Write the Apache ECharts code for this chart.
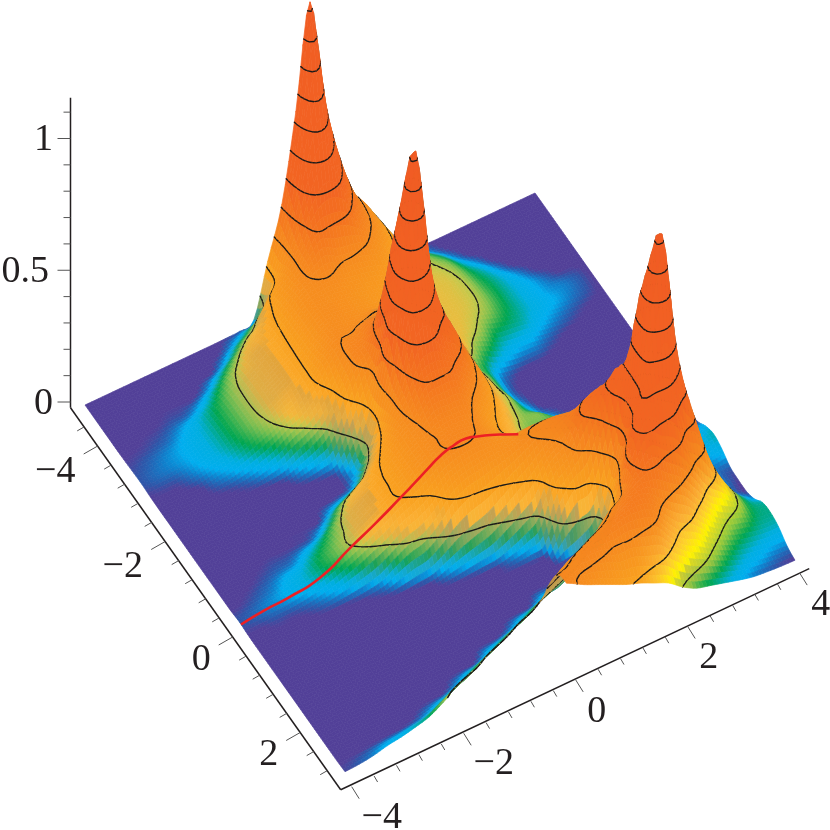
<!DOCTYPE html>
<html><head><meta charset="utf-8">
<style>html,body{margin:0;padding:0;background:#fff}#c{width:830px;height:830px}</style>
<script src="https://cdn.jsdelivr.net/npm/echarts@6/dist/echarts.min.js"></script>
</head><body><div id="c"></div>
<script>
// Surface samples: one list per u value, each running along v.
const uValues=[-4,-3.75,-3.5,-3.25,-3,-2.75,-2.5,-2.25,-2,-1.75,-1.5,-1.25,-1,-.75,-.5,-.25,0,.25,.5,.75,1,1.25,1.5,1.75,2,2.25,2.5,2.75,3,3.25,3.5,3.75,4];
const vValues=[-4.8,-4.55,-4.3,-4.05,-3.8,-3.55,-3.3,-3.05,-2.8,-2.55,-2.3,-2.05,-1.8,-1.55,-1.3,-1.05,-.8,-.55,-.3,-.05,.2,.45,.7,.95,1.2,1.45,1.7,1.95,2.2,2.45,2.7,2.95,3.2];
const h00=[0,0,0,0,0,.001,.003,.004,.001,0,0,0,0,0,0,0,0,0,.0005,.004,.001,0,0,0,0,0,0,0,0,0,0,0,.002];
const h01=[0,0,0,0,0,.002,.006,.008,.002,0,0,0,0,0,0,0,0,0,.002,.007,.001,0,0,0,0,0,0,0,0,0,0,0,.005];
const h02=[0,0,0,0,.001,.004,.011,.012,.003,0,0,0,0,0,0,0,0,.001,.006,.012,.003,0,0,0,0,0,0,0,0,0,0,0,.012];
const h03=[0,0,0,0,.002,.008,.017,.018,.012,.001,0,0,0,0,0,0,.0005,.004,.012,.018,.003,0,0,0,0,0,0,0,0,0,0,0,.025];
const h04=[0,0,0,.001,.005,.018,.027,.028,.024,.011,.001,0,0,0,0,0,.002,.008,.024,.028,.006,0,0,0,0,0,0,0,0,0,0,.001,.033];
const h05=[0,0,0,.001,.008,.032,.039,.04,.037,.022,.004,0,0,0,0,0,.002,.012,.034,.04,.014,.001,0,0,0,0,0,0,0,0,0,.003,.045];
const h06=[0,0,0,.001,.024,.052,.059,.06,.056,.042,.012,0,0,0,0,.001,.004,.03,.056,.06,.028,.002,0,0,0,0,0,0,0,0,0,.01,.06];
const h07=[0,0,0,.014,.054,.075,.08,.08,.077,.063,.028,.001,0,0,0,.001,.01,.052,.075,.08,.047,.004,0,0,0,0,0,0,0,0,0,.028,.09];
const h08=[0,0,.004,.048,.087,.102,.105,.105,.1,.085,.048,.007,0,0,0,.002,.04,.085,.1,.105,.066,.009,0,0,0,0,0,0,0,0,0,.053,.125];
const h09=[0,.002,.03,.086,.118,.132,.135,.135,.13,.113,.08,.028,.001,0,.001,.03,.09,.125,.135,.135,.09,.02,0,0,0,0,0,0,0,0,.015,.078,.167];
const h10=[.001,.02,.075,.125,.155,.163,.165,.165,.16,.14,.105,.05,.006,0,.005,.055,.125,.16,.165,.165,.115,.05,.001,0,0,0,0,0,0,0,.04,.104,.21];
const h11=[.003,.05,.11,.165,.185,.19,.193,.195,.195,.19,.15,.085,.02,.004,.02,.09,.165,.19,.195,.195,.15,.075,.006,0,0,0,0,0,0,.003,.065,.146,.25];
const h12=[.02,.09,.2,.225,.235,.24,.24,.24,.25,.26,.225,.19,.1,.045,.09,.17,.215,.23,.23,.225,.17,.09,.012,0,0,0,0,0,0,.028,.09,.188,.293];
const h13=[.22,.22,.26,.27,.28,.28,.28,.28,.29,.3,.31,.3,.22,.18,.22,.25,.27,.27,.265,.26,.2,.13,.035,.001,0,0,0,0,0,.05,.12,.226,.33];
const h14=[.41,.37,.33,.32,.3,.285,.285,.285,.285,.31,.33,.36,.38,.47,.38,.34,.31,.295,.29,.285,.25,.19,.06,.004,0,0,0,0,.012,.075,.163,.268,.37];
const h15=[.74,.62,.47,.38,.31,.285,.275,.275,.29,.34,.39,.56,.78,.87,.68,.48,.39,.34,.31,.31,.27,.225,.08,.008,0,0,0,0,.037,.1,.205,.31,.34];
const h16=[1.13,.82,.53,.36,.29,.27,.26,.265,.3,.33,.385,.56,.87,1.13,.72,.5,.4,.34,.315,.31,.28,.235,.1,.012,.001,0,0,.002,.062,.142,.247,.31,.315];
const h17=[.74,.62,.49,.345,.285,.255,.245,.25,.285,.33,.39,.49,.65,.67,.53,.44,.39,.335,.305,.295,.28,.25,.135,.03,.002,0,0,.025,.087,.184,.285,.31,.285];
const h18=[.5,.45,.38,.32,.27,.24,.225,.22,.24,.27,.32,.38,.46,.46,.46,.4,.33,.28,.26,.265,.275,.265,.175,.055,.004,0,0,.03,.12,.23,.31,.31,.26];
const h19=[.34,.33,.31,.275,.245,.215,.195,.19,.2,.225,.255,.29,.33,.33,.34,.31,.27,.225,.21,.235,.275,.285,.215,.095,.012,.001,.003,.06,.165,.27,.325,.3,.235];
const h20=[.26,.26,.25,.22,.195,.17,.155,.15,.155,.17,.19,.22,.245,.24,.24,.225,.19,.16,.16,.215,.285,.31,.27,.23,.125,.008,.02,.105,.22,.3,.335,.28,.21];
const h21=[.17,.18,.175,.16,.145,.13,.12,.115,.12,.125,.135,.105,.13,.14,.135,.13,.12,.11,.13,.2,.28,.33,.31,.27,.2,.02,.06,.17,.28,.33,.35,.28,.19];
const h22=[.085,.1,.11,.115,.115,.115,.115,.115,.115,.11,.09,.065,.07,.075,.09,.09,.09,.085,.11,.18,.26,.33,.37,.38,.22,.07,.07,.2,.32,.36,.35,.26,.165];
const h23=[.03,.055,.08,.095,.105,.11,.11,.11,.105,.09,.06,.02,.012,.015,.03,.05,.085,.08,.09,.14,.21,.3,.41,.46,.38,.24,.3,.42,.39,.37,.33,.24,.14];
const h24=[.004,.018,.05,.075,.088,.095,.098,.097,.088,.06,.035,.006,0,0,.002,.015,.05,.085,.11,.15,.21,.29,.39,.49,.58,.5,.52,.6,.46,.34,.26,.185,.1];
const h25=[0,.002,.017,.04,.058,.067,.072,.073,.066,.05,.022,.002,0,0,0,.002,.012,.035,.06,.09,.14,.2,.29,.41,.56,.88,.9,.62,.42,.3,.2,.14,.07];
const h26=[0,0,.001,.016,.036,.048,.052,.052,.05,.042,.018,.002,0,0,0,0,.002,.012,.028,.05,.08,.115,.17,.27,.58,.87,1.13,.62,.38,.26,.17,.11,.055];
const h27=[0,0,0,.001,.013,.029,.035,.036,.036,.026,.008,0,0,0,0,0,0,.001,.006,.02,.045,.07,.105,.16,.3,.6,.68,.42,.3,.19,.125,.08,.04];
const h28=[0,0,0,0,.0005,.012,.022,.024,.026,.015,.002,0,0,0,0,0,0,0,0,.003,.018,.04,.06,.09,.15,.28,.42,.36,.21,.135,.09,.055,.025];
const h29=[0,0,0,0,0,.001,.01,.015,.018,.007,0,0,0,0,0,0,0,0,0,0,.005,.02,.035,.05,.075,.12,.2,.22,.16,.1,.065,.035,.012];
const h30=[0,0,0,0,0,0,.002,.011,.01,.002,0,0,0,0,0,0,0,0,0,0,.001,.012,.024,.03,.035,.05,.085,.12,.11,.08,.05,.025,.006];
const h31=[0,0,0,0,0,0,.001,.005,.004,0,0,0,0,0,0,0,0,0,0,0,.001,.012,.03,.018,.01,.012,.018,.05,.06,.055,.04,.015,.002];
const h32=[0,0,0,0,0,0,0,0,0,0,0,0,0,0,0,0,0,0,0,0,.004,.03,.043,.03,.006,.001,0,.015,.045,.05,.038,.012,0];
const heightColumns=[h00,h01,h02,h03,h04,h05,h06,h07,h08,h09,h10,h11,h12,h13,h14,h15,h16,h17,h18,h19,h20,h21,h22,h23,h24,h25,h26,h27,h28,h29,h30,h31,h32];

// Slice at v = 0 drawn in red.
const redU=[-4,-3.6,-3.17,-2.59,-2.05,-1.6,-1.16,-.9,-.68,-.45,-.22,0,.2,.6,.93];
const redZ=[.003,.015,.02,.04,.1,.148,.2,.232,.26,.288,.303,.307,.295,.262,.23];

const contourLevels=[.1,.2,.3,.4,.5,.6,.7,.8,.9,1,1.1];
const uTicks=[-4,-3.6,-3.2,-2.8,-2.4,-2,-1.6,-1.2,-.8,-.4,0,.4,.8,1.2,1.6,2,2.4,2.8,3.2,3.6,4];
const vTicks=[-4.4,-4,-3.6,-3.2,-2.8,-2.4,-2,-1.6,-1.2,-.8,-.4,0,.4,.8,1.2,1.6,2,2.4,2.8];
const zTicks=[0,.1,.2,.3,.4,.5,.6,.7,.8,.9,1,1.1];
const uLabels=[-4,-2,0,2,4];
const vLabels=[-4,-2,0,2];
const zLabels=[0,.5,1];

const mainStops=[[0,'#524098'],[.0008,'#524098'],[.004,'#2f55a8'],[.012,'#0f80cc'],[.02,'#00aeef'],[.035,'#00aee0'],[.06,'#00a651'],[.085,'#7cc04f'],[.105,'#c9c84a'],[.12,'#f5b83a'],[.15,'#fbb034'],[.2,'#f9a11f'],[.3,'#f68b1f'],[.4,'#f4741f'],[.5,'#f26522'],[1.2,'#f15a24']];
const brightStops=[[0,'#524098'],[.0008,'#524098'],[.004,'#2f55a8'],[.012,'#0f80cc'],[.02,'#00aeef'],[.035,'#00aee0'],[.06,'#00a651'],[.085,'#8cc63f'],[.115,'#d7df23'],[.14,'#fff200'],[.17,'#fdd32a'],[.22,'#fbb034'],[.3,'#f68b1f'],[.4,'#f4741f'],[.5,'#f26522'],[1.2,'#f15a24']];

const SUB=4;
const hex=c=>[parseInt(c.slice(1,3),16),parseInt(c.slice(3,5),16),parseInt(c.slice(5,7),16)];
const mainRgb=mainStops.map(s=>[s[0],hex(s[1])]), brightRgb=brightStops.map(s=>[s[0],hex(s[1])]);
function ramp(st,z){
  let i=1; while(i<st.length-1&&z>st[i][0]) i++;
  const a=st[i-1],b=st[i],t=Math.max(0,Math.min(1,(z-a[0])/(b[0]-a[0])));
  return [0,1,2].map(k=>a[1][k]+(b[1][k]-a[1][k])*t);
}
const clamp01=x=>Math.max(0,Math.min(1,x));
// View of the plot box: oblique projection of (u,v,z) to plane coordinates.
const surfaceVShift=4.8;
function project(u,v,z){
  return [85+56.25*(u+4)+32.5*(v+surfaceVShift), 405-26.5*(u+4)+45.9*(v+surfaceVShift)-263*z];
}
const uAxisAt=u=>[351.7+56*(u+4),786.7-26.7*(u+4)];
const vAxisAt=v=>[97.7+33.75*(v+4),446+47.75*(v+4)];
const zAxisAt=z=>[70.5,402-263.5*z];

// Smooth drawing mesh through the samples.
const cr=(p0,p1,p2,p3,t)=>.5*(2*p1+(p2-p0)*t+(2*p0-5*p1+4*p2-p3)*t*t+(3*p1-p0-3*p2+p3)*t*t*t);
const nU=uValues.length,nV=vValues.length;
const H=(i,j)=>heightColumns[Math.max(0,Math.min(nU-1,i))][Math.max(0,Math.min(nV-1,j))];
const NF=(nU-1)*SUB+1, MF=(nV-1)*SUB+1;
const fine=[];
for(let a=0;a<NF;a++){
  const row=new Float32Array(MF);const i=Math.min(nU-2,Math.floor(a/SUB)),s=a/SUB-i;
  for(let b=0;b<MF;b++){
    const j=Math.min(nV-2,Math.floor(b/SUB)),t=b/SUB-j,c=[];
    for(let q=-1;q<=2;q++) c.push(cr(H(i-1,j+q),H(i,j+q),H(i+1,j+q),H(i+2,j+q),s));
    row[b]=Math.max(0,cr(c[0],c[1],c[2],c[3],t));
  }
  fine.push(row);
}
const du=(uValues[1]-uValues[0])/SUB, dv=(vValues[1]-vValues[0])/SUB;
const fu=a=>uValues[0]+a*du, fv=b=>vValues[0]+b*dv;

// Far to near: v rising, u falling.
const cells=[];
for(let b=0;b<MF-1;b++) for(let a=NF-2;a>=0;a--) cells.push([a,b]);

function facing(a,b){
  const zu=(fine[a+1][b]+fine[a+1][b+1]-fine[a][b]-fine[a][b+1])/(2*du);
  const zv=(fine[a][b+1]+fine[a+1][b+1]-fine[a][b]-fine[a+1][b])/(2*dv);
  const det=56.25*(45.9-263*zv)-(-26.5-263*zu)*32.5;
  return {zu,zv,f:det/3443,s:Math.hypot(zu,zv)};
}
function shade(a,b,zm,n){
  const u=fu(a),vp=fv(b)+.8;
  const w=clamp01((u-1.2)/.6)*clamp01((vp-2.6)/.4);
  const c1=ramp(mainRgb,zm),c2=ramp(brightRgb,zm);
  const c=[0,1,2].map(k=>c1[k]+(c2[k]-c1[k])*w);
  let m=clamp01(1-n.f/.3)*.5;
  if(zm<.13&&zm>.02) m=Math.max(m,Math.min(.5,clamp01((n.s-.18)/.4)*.55));
  if(zm<.17&&n.zu>0){ const r=n.zu/(.1+Math.abs(n.zv)); m=Math.max(m,clamp01((r-.4)/.6)*.22*clamp01((zm-.07)/.04)); }
  const g=[140,140,108];
  return 'rgb('+[0,1,2].map(k=>Math.round(c[k]+(g[k]-c[k])*m)).join(',')+')';
}
function renderCell(params,api){
  const a=api.value(0),b=api.value(1);
  const z00=fine[a][b],z10=fine[a+1][b],z11=fine[a+1][b+1],z01=fine[a][b+1];
  const P=(u,v,z)=>api.coord(project(u,v,z));
  const u0=fu(a),u1=fu(a+1),v0=fv(b),v1=fv(b+1);
  const n=facing(a,b);
  const zm=(z00+z10+z11+z01)/4;
  // The upper far side of the front bank is hidden: only its low part shows, up to the first contour.
  const hiddenBank=u0<-.1&&v0+.8>2.4;
  const kids=[];
  if(!(hiddenBank&&zm>.1)){
    const col=shade(a,b,zm,n);
    kids.push({type:'polygon',silent:true,shape:{points:[P(u0,v0,z00),P(u1,v0,z10),P(u1,v1,z11),P(u0,v1,z01)]},style:{fill:col,stroke:col,lineWidth:.7}});
  }
  const lo=Math.min(z00,z10,z11,z01),hi=Math.max(z00,z10,z11,z01);
  for(const L of contourLevels){
    if(L<lo||L>hi||(hiddenBank&&L>.1)) continue;
    const pts=[];
    const e=(ua,va,za,ub,vb,zb)=>{
      if((za<L)!==(zb<L)){const t=(L-za)/(zb-za);pts.push(P(ua+(ub-ua)*t,va+(vb-va)*t,L));}
    };
    e(u0,v0,z00,u1,v0,z10);e(u1,v0,z10,u1,v1,z11);e(u1,v1,z11,u0,v1,z01);e(u0,v1,z01,u0,v0,z00);
    for(let k=0;k+1<pts.length;k+=2) kids.push({type:'line',silent:true,shape:{x1:pts[k][0],y1:pts[k][1],x2:pts[k+1][0],y2:pts[k+1][1]},style:{stroke:'#1a1a1a',lineWidth:1.4,lineCap:'round'}});
  }
  return {type:'group',children:kids};
}
const AXC='#231f20',TICKC='#555';
const FONT={fontFamily:'"Liberation Serif",serif',fontSize:38,fill:AXC};
function renderAxes(params,api){
  const kids=[];
  const seg=(p,q,w,c)=>kids.push({type:'line',silent:true,shape:{x1:p[0],y1:p[1],x2:q[0],y2:q[1]},style:{stroke:c,lineWidth:w}});
  const text=(t,p,align)=>kids.push({type:'text',silent:true,style:Object.assign({text:t,x:p[0],y:p[1],align:align||'center',verticalAlign:'middle'},FONT)});
  const C=p=>api.coord(p);
  seg(C(zAxisAt(1.155)),C(zAxisAt(-.022)),1.5,AXC);
  seg(C(zAxisAt(-.022)),C(vAxisAt(3.2)),1.5,AXC);
  seg(C(vAxisAt(3.2)),C(uAxisAt(4.17)),1.5,AXC);
  for(const z of zTicks){const p=zAxisAt(z),maj=zLabels.includes(z);seg(C(p),C([p[0]-(maj?13:7),p[1]]),1,TICKC);}
  for(const v of vTicks){const p=vAxisAt(v),maj=vLabels.includes(v);seg(C(p),C([p[0]-(maj?14:7),p[1]+(maj?8:4)]),1,TICKC);}
  for(const u of uTicks){const p=uAxisAt(u),maj=uLabels.includes(u);seg(C(p),C([p[0]+(maj?7.5:3.5),p[1]+(maj?12:6)]),1,TICKC);}
  const nice=x=>String(x).replace('-','\u2212');
  for(const z of zLabels){const p=zAxisAt(z);text(String(z),C([z===.5?49:53,p[1]+2]),'right');}
  for(const v of vLabels){const p=vAxisAt(v);text(nice(v),C(v<0?[p[0]-42.5,p[1]+26]:[p[0]-31.5,p[1]+23]));}
  for(const u of uLabels){const p=uAxisAt(u);text(nice(u),C(u<0?[p[0]+30,p[1]+31]:[p[0]+21,p[1]+32]));}
  return {type:'group',children:kids};
}
const chart=echarts.init(document.getElementById('c'),null,{renderer:'canvas'});
chart.setOption({
  animation:false,backgroundColor:'#fff',
  grid:{left:0,right:0,top:0,bottom:0},
  xAxis:{type:'value',min:0,max:830,show:false},
  yAxis:{type:'value',min:0,max:830,inverse:true,show:false},
  tooltip:{show:false},
  series:[
    {type:'custom',name:'axes',coordinateSystem:'cartesian2d',data:[[0,0]],renderItem:renderAxes,clip:false,silent:true,z:1},
    {type:'custom',name:'surface',coordinateSystem:'cartesian2d',data:cells,renderItem:renderCell,clip:false,silent:true,progressive:0,z:2,encode:{x:0,y:1}},
    {type:'line',name:'slice v = 0',data:redU.map((u,i)=>project(u,0,redZ[i])),smooth:.6,showSymbol:false,silent:true,z:3,lineStyle:{color:'#ed2024',width:2.6},itemStyle:{color:'#ed2024'}}
  ]
});
</script></body></html>
